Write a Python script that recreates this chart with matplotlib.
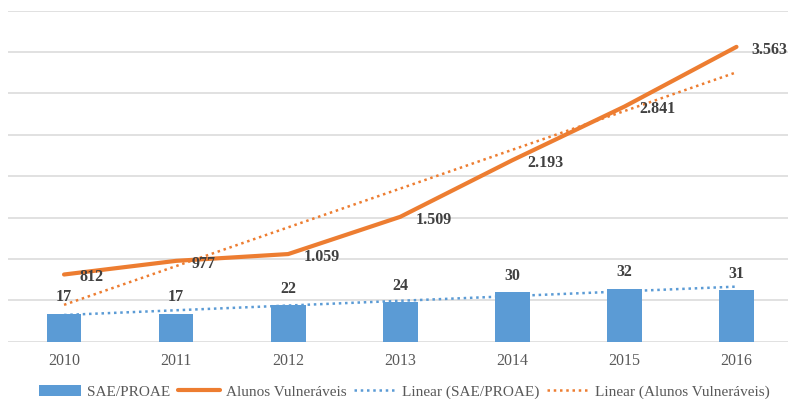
import matplotlib
matplotlib.use('Agg')
import matplotlib.pyplot as plt
import numpy as np

# Data
anos = ['2010', '2011', '2012', '2013', '2014', '2015', '2016']
sae_proae = [17, 17, 22, 24, 30, 32, 31]
alunos_vulneraveis = [812, 977, 1059, 1509, 2193, 2841, 3563]
alunos_labels = ['812', '977', '1.059', '1.509', '2.193', '2.841', '3.563']

BLUE = '#5B9BD5'
ORANGE = '#ED7D31'
GRID = '#D9D9D9'
TEXT = '#404040'

plt.rcParams['font.family'] = ['Liberation Serif', 'DejaVu Serif']

fig = plt.figure(figsize=(7.88, 3.99), dpi=100)
ax = fig.add_axes([8 / 788, 0.1436, 784.5 / 788, 0.8296])
ax2 = ax.twinx()

x = np.arange(len(anos))

# Linear trendlines (least-squares fit, as the spreadsheet does)
fit_sae = np.polyval(np.polyfit(x, sae_proae, 1), x)
fit_alunos = np.polyval(np.polyfit(x, alunos_vulneraveis, 1), x)

ax.set_zorder(1)
ax2.set_zorder(2)
ax.patch.set_visible(False)

bars = ax.bar(x, sae_proae, width=0.31, color=BLUE, zorder=3, label='SAE/PROAE')
trend_sae, = ax.plot(x, fit_sae, ls=(0, (1, 1.5)), lw=1.8, color=BLUE, zorder=2,
                     label='Linear (SAE/PROAE)')

line, = ax2.plot(x, alunos_vulneraveis, color=ORANGE, lw=3, solid_capstyle='round',
                 label='Alunos Vulneráveis', zorder=3)
trend_alunos, = ax2.plot(x, fit_alunos, ls=(0, (1, 1.5)), lw=1.8, color=ORANGE, zorder=2,
                         label='Linear (Alunos Vulneráveis)')

ax.set_xlim(-0.5, len(anos) - 0.5)
ax.set_ylim(0, 200)
ax2.set_ylim(0, 4000)
ax.set_yticks(np.arange(0, 201, 25))
ax.grid(axis='y', color=GRID, lw=1.1, zorder=0)
ax.set_axisbelow(True)

for a in (ax, ax2):
    for s in a.spines.values():
        s.set_visible(False)
    a.tick_params(axis='y', left=False, right=False, labelleft=False, labelright=False)
ax.tick_params(axis='x', length=0, pad=8, labelsize=11.5, labelcolor='#595959')
ax.set_xticks(x)
ax.set_xticklabels(anos)

# Value labels
for xi, v in zip(x, sae_proae):
    ax.annotate(f'{v}', (xi, v), xytext=(0, 6), textcoords='offset points',
                ha='center', va='bottom', fontsize=11.5, fontweight='bold', color=TEXT, zorder=5)
for xi, v, lab in zip(x, alunos_vulneraveis, alunos_labels):
    ax2.annotate(lab, (xi, v), xytext=(11, -2), textcoords='offset points',
                 ha='left', va='center', fontsize=11.5, fontweight='bold', color=TEXT, zorder=5)

fig.legend(handles=[bars, line, trend_sae, trend_alunos],
           loc='center', bbox_to_anchor=(0.513, 1 - 392 / 399), ncol=4, frameon=False,
           fontsize=11, handlelength=2.8, handletextpad=0.35, columnspacing=0.5,
           labelcolor='#595959')

fig.savefig('out.png', dpi=100)
